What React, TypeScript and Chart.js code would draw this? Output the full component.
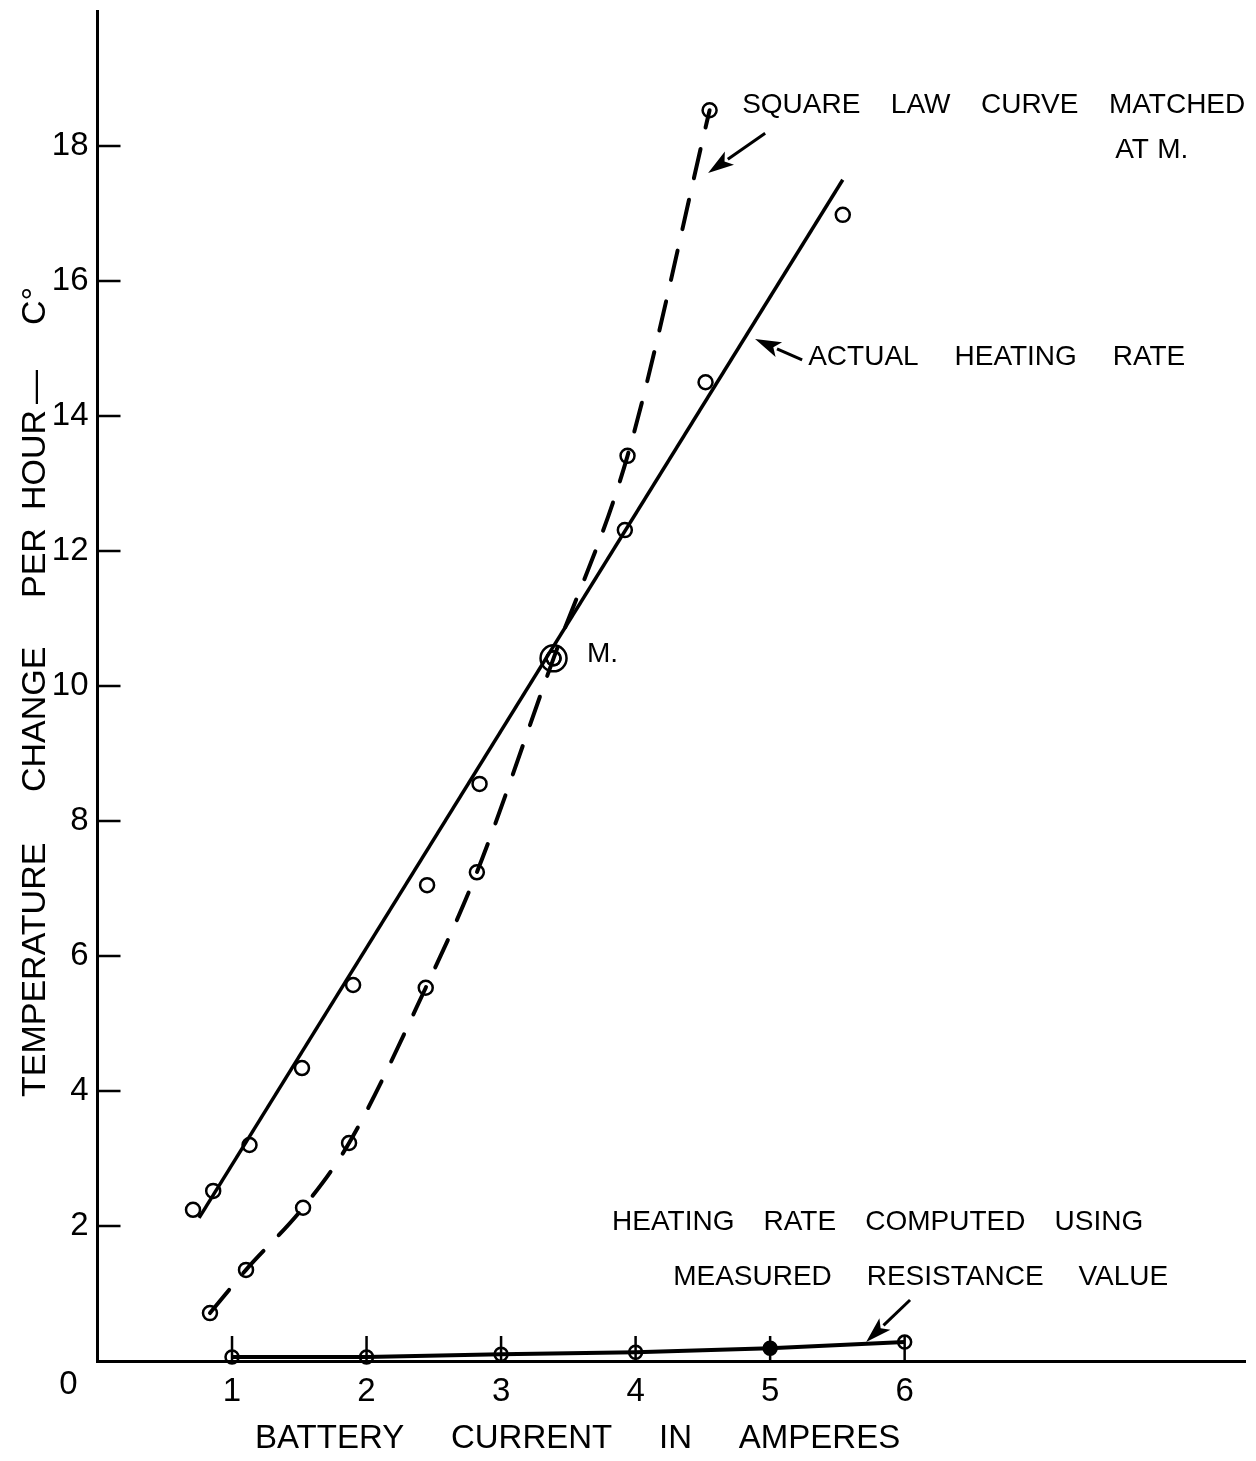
import React, { useEffect, useRef } from 'react';
import { Chart, registerables } from 'chart.js';

Chart.register(...registerables);

const FONT = '"Liberation Sans", Arial, Helvetica, sans-serif';

// Actual heating rate – observed points (amperes, °C per hour)
const actualCurrent = [0.71, 0.86, 1.13, 1.52, 1.9, 2.45, 2.84, 3.39, 3.92, 4.52, 5.54];
const actualRate = [2.24, 2.52, 3.2, 4.34, 5.57, 7.05, 8.55, 10.41, 12.31, 14.5, 16.98];

// Straight line drawn through the actual heating rate
const fitCurrent = [0.755, 5.54];
const fitRate = [2.12, 17.5];

// Square law curve matched at M
const squareCurrent = [0.836, 1.104, 1.528, 1.87, 2.44, 2.82, 3.39, 3.94, 4.55];
const squareRate = [0.71, 1.35, 2.27, 3.23, 5.53, 7.24, 10.41, 13.41, 18.53];

// Heating rate computed using measured resistance value
const computedCurrent = [1, 2, 3, 4, 5, 6];
const computedRate = [0.06, 0.06, 0.1, 0.13, 0.19, 0.28];
const computedFilled = [false, false, false, false, true, false];

// Matching point M
const matchCurrent = [3.39];
const matchRate = [10.41];

const xTickValues = [1, 2, 3, 4, 5, 6];
const yTickValues = [2, 4, 6, 8, 10, 12, 14, 16, 18];
const xMax = 8.53;
const yMax = 20;

const xTitleWords = ['BATTERY', 'CURRENT', 'IN', 'AMPERES'];
const yTitleWords = ['TEMPERATURE', 'CHANGE', 'PER', 'HOUR', '—', 'C°'];

const toPts = (xs: number[], ys: number[]) => xs.map((x, i) => ({ x, y: ys[i] }));

function drawSpread(ctx: CanvasRenderingContext2D, text: string, left: number, right: number, y: number) {
  const words = text.split(' ');
  const widths = words.map((w) => ctx.measureText(w).width);
  const total = widths.reduce((a, b) => a + b, 0);
  const gap = words.length > 1 ? (right - left - total) / (words.length - 1) : 0;
  let cx = left;
  words.forEach((w, i) => {
    ctx.fillText(w, cx, y);
    cx += widths[i] + gap;
  });
}

function drawArrow(ctx: CanvasRenderingContext2D, x1: number, y1: number, x2: number, y2: number) {
  const ang = Math.atan2(y2 - y1, x2 - x1);
  const head = 26;
  const hw = 8;
  const c = Math.cos(ang);
  const s = Math.sin(ang);
  const bx = x2 - head * c;
  const by = y2 - head * s;
  ctx.beginPath();
  ctx.moveTo(x1, y1);
  ctx.lineTo(bx + 2 * c, by + 2 * s);
  ctx.stroke();
  ctx.beginPath();
  ctx.moveTo(x2, y2);
  ctx.lineTo(bx - hw * s, by + hw * c);
  ctx.lineTo(bx + 6 * c, by + 6 * s);
  ctx.lineTo(bx + hw * s, by - hw * c);
  ctx.closePath();
  ctx.fill();
}

const annotatePlugin = {
  id: 'annotate',
  afterDraw(chart: any) {
    const { ctx, scales } = chart;
    const xs = scales.x;
    const ys = scales.y;
    const px = (v: number) => xs.getPixelForValue(v);
    const py = (v: number) => ys.getPixelForValue(v);
    const x0 = px(0);
    const y0 = py(0);
    ctx.save();
    ctx.strokeStyle = '#000';
    ctx.fillStyle = '#000';

    // inward tick marks
    ctx.lineWidth = 2.5;
    ctx.beginPath();
    yTickValues.forEach((v) => {
      ctx.moveTo(x0, py(v));
      ctx.lineTo(x0 + 23, py(v));
    });
    xTickValues.forEach((v) => {
      ctx.moveTo(px(v), y0);
      ctx.lineTo(px(v), y0 - 25);
    });
    ctx.stroke();

    // origin label
    ctx.font = `33px ${FONT}`;
    ctx.textAlign = 'center';
    ctx.textBaseline = 'middle';
    ctx.fillText('0', x0 - 29, y0 + 24);

    // x axis title
    ctx.textAlign = 'left';
    ctx.textBaseline = 'alphabetic';
    ctx.font = `33px ${FONT}`;
    drawSpread(ctx, xTitleWords.join(' '), px(1.171), px(5.967), y0 + 87);

    // y axis title (rotated)
    ctx.save();
    ctx.font = `34px ${FONT}`;
    ctx.translate(x0 - 53, y0 - 264);
    ctx.rotate(-Math.PI / 2);
    const yOffsets = [0, 305, 499, 587, 693, 772];
    yTitleWords.forEach((w, i) => ctx.fillText(w, yOffsets[i], 0));
    ctx.restore();

    // annotations
    ctx.font = `28px ${FONT}`;
    ctx.textBaseline = 'middle';
    drawSpread(ctx, 'SQUARE LAW CURVE MATCHED', px(4.792), px(8.532), py(18.61));
    drawSpread(ctx, 'AT M.', px(7.565), px(8.108), py(17.94));
    drawSpread(ctx, 'ACTUAL HEATING RATE', px(5.283), px(8.086), py(14.87));
    ctx.fillText('M.', px(3.639), py(10.47));
    drawSpread(ctx, 'HEATING RATE COMPUTED USING', px(3.825), px(7.773), py(2.06));
    drawSpread(ctx, 'MEASURED RESISTANCE VALUE', px(4.279), px(7.959), py(1.244));

    // arrows
    ctx.lineWidth = 3;
    drawArrow(ctx, px(4.963), py(18.19), px(4.539), py(17.6));
    drawArrow(ctx, px(5.238), py(14.83), px(4.888), py(15.14));
    drawArrow(ctx, px(6.04), py(0.904), px(5.714), py(0.281));

    ctx.restore();
  },
};

export default function App() {
  const canvasRef = useRef<HTMLCanvasElement | null>(null);

  useEffect(() => {
    const canvas = canvasRef.current;
    if (!canvas) return;
    const hollow = 'rgba(0,0,0,0)';
    const chart = new Chart(canvas, {
      type: 'scatter',
      data: {
        datasets: [
          {
            label: 'Matched point M',
            data: toPts(matchCurrent, matchRate),
            pointRadius: 13,
            pointBorderWidth: 2.5,
            pointBorderColor: '#000',
            pointBackgroundColor: hollow,
            showLine: false,
          },
          {
            label: 'Actual heating rate (points)',
            data: toPts(actualCurrent, actualRate),
            pointRadius: 7,
            pointBorderWidth: 2.5,
            pointBorderColor: '#000',
            pointBackgroundColor: hollow,
            showLine: false,
          },
          {
            label: 'Actual heating rate',
            data: toPts(fitCurrent, fitRate),
            showLine: true,
            borderColor: '#000',
            borderWidth: 3.5,
            pointRadius: 0,
          },
          {
            label: 'Square law curve matched at M',
            data: toPts(squareCurrent, squareRate),
            showLine: true,
            borderColor: '#000',
            borderWidth: 4,
            borderDash: [30, 22],
            borderCapStyle: 'round',
            cubicInterpolationMode: 'monotone',
            pointRadius: 7,
            pointBorderWidth: 2.5,
            pointBorderColor: '#000',
            pointBackgroundColor: hollow,
          },
          {
            label: 'Heating rate computed using measured resistance value',
            data: toPts(computedCurrent, computedRate),
            showLine: true,
            borderColor: '#000',
            borderWidth: 4,
            pointRadius: 6.5,
            pointBorderWidth: 2.5,
            pointBorderColor: '#000',
            pointBackgroundColor: computedFilled.map((f) => (f ? '#000' : hollow)),
            clip: false,
          } as any,
        ],
      },
      options: {
        responsive: false,
        animation: false,
        events: [],
        layout: { autoPadding: false, padding: { top: 11, right: 11, left: 0, bottom: 0 } },
        plugins: {
          legend: { display: false },
          tooltip: { enabled: false },
          title: { display: false },
        },
        scales: {
          x: {
            type: 'linear',
            position: 'bottom',
            min: 0,
            max: xMax,
            afterBuildTicks: (s: any) => {
              s.ticks = xTickValues.map((v) => ({ value: v }));
            },
            afterFit: (s: any) => {
              s.height = 100;
              s.paddingLeft = 0;
              s.paddingRight = 0;
            },
            grid: { display: true, drawOnChartArea: false, drawTicks: false },
            border: { display: true, color: '#000', width: 3 },
            ticks: {
              color: '#000',
              font: { family: FONT, size: 33 },
              padding: 11,
              maxRotation: 0,
              autoSkip: false,
              callback: (v: any) => String(v),
            },
          },
          y: {
            type: 'linear',
            min: 0,
            max: yMax,
            afterBuildTicks: (s: any) => {
              s.ticks = yTickValues.map((v) => ({ value: v }));
            },
            afterFit: (s: any) => {
              s.width = 97.5;
              s.paddingTop = 0;
              s.paddingBottom = 0;
            },
            grid: { display: true, drawOnChartArea: false, drawTicks: false },
            border: { display: true, color: '#000', width: 3 },
            ticks: {
              color: '#000',
              font: { family: FONT, size: 33 },
              padding: 9,
              autoSkip: false,
              callback: (v: any) => String(v),
            },
          },
        },
      } as any,
      plugins: [annotatePlugin],
    });
    return () => chart.destroy();
  }, []);

  return (
    <div style={{ position: 'fixed', left: 0, top: 0, width: 1256, height: 1461, background: '#fff' }}>
      <canvas ref={canvasRef} width={1256} height={1461} style={{ display: 'block' }} />
    </div>
  );
}
